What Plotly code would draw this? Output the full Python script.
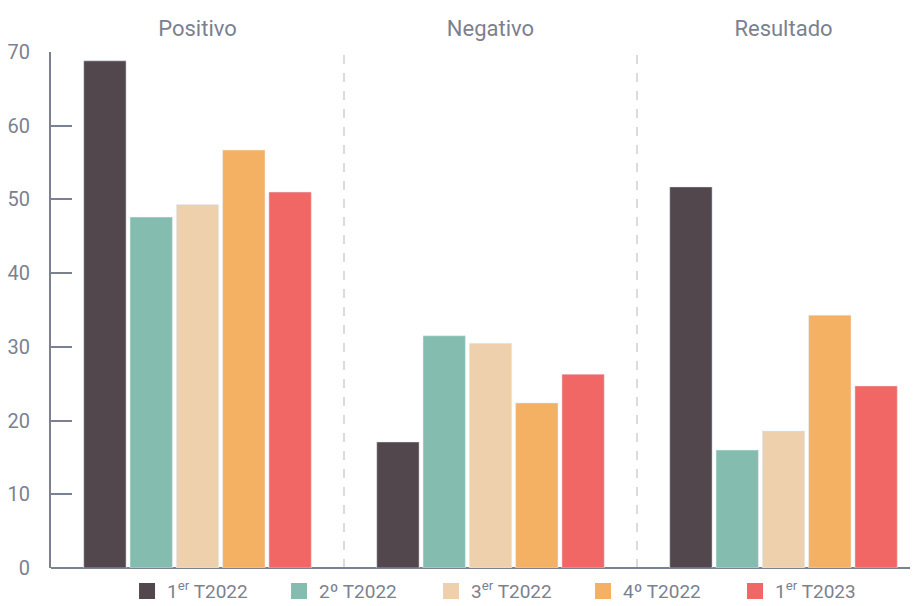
import plotly.graph_objects as go

categorias = ["Positivo", "Negativo", "Resultado"]
periodos = ["1<sup>er</sup> T2022", "2º T2022", "3<sup>er</sup> T2022", "4º T2022", "1<sup>er</sup> T2023"]
colores = ["#52474d", "#84bdaf", "#efd0ad", "#f4b063", "#f06765"]

t1_2022 = [68.8, 17.1, 51.7]
t2_2022 = [47.6, 31.5, 16.0]
t3_2022 = [49.3, 30.5, 18.6]
t4_2022 = [56.7, 22.4, 34.3]
t1_2023 = [51.0, 26.3, 24.7]
series = [t1_2022, t2_2022, t3_2022, t4_2022, t1_2023]

gris = "#7b8190"
fuente = "Roboto, sans-serif"

fig = go.Figure()
for nombre, valores, color in zip(periodos, series, colores):
    fig.add_trace(go.Bar(x=categorias, y=valores, name=nombre, marker_color=color,
                         showlegend=False))
    # cuadrado grande para la leyenda
    fig.add_trace(go.Scatter(x=[None], y=[None], mode="markers", name=nombre,
                             marker=dict(symbol="square", size=16, color=color)))

for sep in [0.5, 1.5]:
    fig.add_shape(type="line", xref="x", yref="y", x0=sep, x1=sep, y0=0, y1=70,
                  line=dict(color="#d0d0d0", width=1.5, dash="dash"), layer="below")

# la página tiene 8px de margen en el body, se compensa aquí
fig.update_layout(
    width=918, height=606,
    margin=dict(l=43, r=8, t=44, b=46, autoexpand=False),
    plot_bgcolor="white", paper_bgcolor="white",
    barmode="group", bargap=0.21, bargroupgap=0.085,
    font=dict(family=fuente, color=gris, size=20),
    legend=dict(orientation="h", x=0.0877, xanchor="left", y=-0.008, yanchor="top",
                font=dict(size=19), itemwidth=30, entrywidth=107, tracegroupgap=0),
    xaxis=dict(side="top", range=[-0.5, 2.459], showgrid=False, showline=False,
               ticks="", tickfont=dict(size=22), ticklabelstandoff=11, automargin=False),
    yaxis=dict(range=[0, 70], tickvals=[0, 10, 20, 30, 40, 50, 60, 70],
               showgrid=False, showline=True, linecolor=gris, linewidth=2,
               ticks="inside", ticklen=21, tickwidth=2, tickcolor=gris,
               zeroline=True, zerolinecolor=gris, zerolinewidth=2,
               tickfont=dict(size=20), ticklabelstandoff=15, automargin=False),
)

fig.write_html("out.html")
